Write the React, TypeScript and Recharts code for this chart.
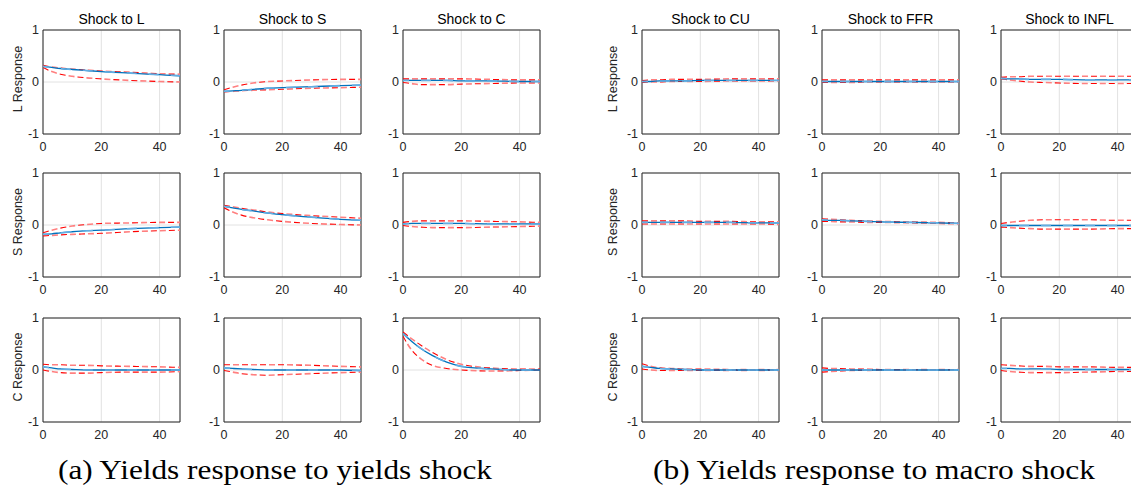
import React from 'react';
import { LineChart, Line, XAxis, YAxis, CartesianGrid, ReferenceArea } from 'recharts';

// ---------- data ----------
const HORIZONS = [0, 3, 6, 10, 15, 20, 30, 40, 47];
const X_TICKS = [0, 20, 40];
const Y_TICKS = [-1, 0, 1];
const YIELD_SHOCKS = ['L', 'S', 'C'];
const MACRO_SHOCKS = ['CU', 'FFR', 'INFL'];
const RESPONSES = ['L', 'S', 'C'];
const CAPTION_A = '(a) Yields response to yields shock';
const CAPTION_B = '(b) Yields response to macro shock';

// group (a): yields response to yields shock
const L_TO_L = { med: [0.30, 0.28, 0.26, 0.24, 0.22, 0.20, 0.17, 0.14, 0.12], lo: [0.28, 0.20, 0.15, 0.11, 0.08, 0.06, 0.03, 0.01, 0.00], hi: [0.32, 0.29, 0.27, 0.25, 0.23, 0.21, 0.19, 0.16, 0.15] };
const L_TO_S = { med: [-0.18, -0.17, -0.16, -0.14, -0.12, -0.11, -0.09, -0.07, -0.06], lo: [-0.19, -0.18, -0.17, -0.16, -0.15, -0.14, -0.12, -0.11, -0.10], hi: [-0.15, -0.10, -0.06, -0.02, 0.01, 0.02, 0.04, 0.05, 0.05] };
const L_TO_C = { med: [0.03, 0.03, 0.03, 0.03, 0.03, 0.02, 0.02, 0.01, 0.01], lo: [-0.01, -0.03, -0.05, -0.05, -0.05, -0.04, -0.03, -0.02, -0.02], hi: [0.06, 0.06, 0.06, 0.06, 0.06, 0.06, 0.05, 0.04, 0.04] };
const S_TO_L = { med: [-0.18, -0.17, -0.15, -0.13, -0.11, -0.10, -0.07, -0.05, -0.04], lo: [-0.21, -0.20, -0.19, -0.18, -0.17, -0.16, -0.13, -0.11, -0.10], hi: [-0.15, -0.10, -0.06, -0.02, 0.01, 0.03, 0.04, 0.05, 0.05] };
const S_TO_S = { med: [0.36, 0.33, 0.30, 0.27, 0.23, 0.20, 0.15, 0.11, 0.09], lo: [0.33, 0.25, 0.19, 0.14, 0.10, 0.07, 0.03, 0.01, 0.00], hi: [0.38, 0.35, 0.32, 0.29, 0.25, 0.22, 0.18, 0.15, 0.13] };
const S_TO_C = { med: [0.02, 0.03, 0.03, 0.03, 0.03, 0.03, 0.02, 0.02, 0.02], lo: [-0.01, -0.03, -0.04, -0.05, -0.05, -0.05, -0.04, -0.03, -0.02], hi: [0.05, 0.07, 0.08, 0.08, 0.08, 0.08, 0.07, 0.06, 0.05] };
const C_TO_L = { med: [0.06, 0.04, 0.02, 0.01, 0.00, 0.00, 0.00, 0.00, 0.00], lo: [0.00, -0.03, -0.05, -0.06, -0.06, -0.05, -0.04, -0.04, -0.03], hi: [0.11, 0.10, 0.10, 0.09, 0.09, 0.08, 0.07, 0.06, 0.05] };
const C_TO_S = { med: [0.04, 0.03, 0.02, 0.01, 0.00, 0.00, 0.00, 0.00, -0.01], lo: [-0.01, -0.04, -0.07, -0.09, -0.10, -0.09, -0.07, -0.05, -0.04], hi: [0.10, 0.10, 0.10, 0.10, 0.10, 0.10, 0.09, 0.07, 0.06] };
const C_TO_C = { med: [0.70, 0.55, 0.42, 0.28, 0.15, 0.07, 0.02, 0.00, 0.00], lo: [0.65, 0.38, 0.22, 0.09, 0.03, 0.00, -0.02, -0.01, 0.00], hi: [0.73, 0.60, 0.48, 0.34, 0.20, 0.11, 0.04, 0.02, 0.02] };

// group (b): yields response to macro shock
const L_TO_CU = { med: [0.01, 0.01, 0.02, 0.02, 0.02, 0.03, 0.03, 0.03, 0.03], lo: [-0.01, 0.00, 0.00, 0.01, 0.01, 0.01, 0.02, 0.02, 0.02], hi: [0.03, 0.04, 0.04, 0.05, 0.05, 0.05, 0.06, 0.06, 0.06] };
const L_TO_FFR = { med: [0.01, 0.01, 0.01, 0.01, 0.01, 0.01, 0.01, 0.01, 0.01], lo: [-0.01, -0.01, -0.01, -0.01, 0.00, 0.00, 0.00, 0.00, 0.00], hi: [0.04, 0.04, 0.04, 0.04, 0.04, 0.04, 0.04, 0.04, 0.04] };
const L_TO_INFL = { med: [0.07, 0.06, 0.06, 0.05, 0.05, 0.05, 0.04, 0.04, 0.04], lo: [0.06, 0.04, 0.02, 0.00, -0.01, -0.02, -0.03, -0.03, -0.03], hi: [0.09, 0.10, 0.10, 0.11, 0.11, 0.11, 0.11, 0.11, 0.11] };
const S_TO_CU = { med: [0.05, 0.05, 0.05, 0.05, 0.05, 0.05, 0.05, 0.04, 0.04], lo: [0.02, 0.02, 0.02, 0.02, 0.02, 0.02, 0.02, 0.02, 0.01], hi: [0.08, 0.08, 0.08, 0.08, 0.08, 0.07, 0.07, 0.06, 0.06] };
const S_TO_FFR = { med: [0.10, 0.09, 0.09, 0.08, 0.07, 0.06, 0.05, 0.04, 0.03], lo: [0.07, 0.07, 0.06, 0.06, 0.05, 0.05, 0.04, 0.03, 0.02], hi: [0.12, 0.11, 0.10, 0.09, 0.08, 0.07, 0.06, 0.05, 0.04] };
const S_TO_INFL = { med: [-0.01, -0.01, -0.01, -0.01, -0.01, -0.01, -0.01, -0.01, -0.01], lo: [-0.04, -0.05, -0.06, -0.07, -0.08, -0.08, -0.08, -0.07, -0.07], hi: [0.03, 0.05, 0.07, 0.09, 0.10, 0.10, 0.10, 0.09, 0.09] };
const C_TO_CU = { med: [0.07, 0.05, 0.03, 0.02, 0.01, 0.00, 0.00, 0.00, 0.00], lo: [0.02, 0.00, -0.01, -0.01, -0.01, -0.01, -0.01, -0.01, -0.01], hi: [0.12, 0.07, 0.04, 0.03, 0.02, 0.02, 0.01, 0.01, 0.01] };
const C_TO_FFR = { med: [0.00, 0.00, 0.00, 0.00, 0.00, 0.00, 0.00, 0.00, 0.00], lo: [-0.04, -0.03, -0.02, -0.01, -0.01, 0.00, 0.00, 0.00, 0.00], hi: [0.04, 0.03, 0.03, 0.02, 0.02, 0.01, 0.01, 0.01, 0.01] };
const C_TO_INFL = { med: [0.03, 0.03, 0.02, 0.02, 0.02, 0.01, 0.01, 0.01, 0.01], lo: [-0.01, -0.03, -0.04, -0.05, -0.05, -0.05, -0.04, -0.03, -0.03], hi: [0.10, 0.09, 0.08, 0.07, 0.07, 0.06, 0.06, 0.05, 0.05] };

const GROUP_A = [
  [L_TO_L, L_TO_S, L_TO_C],
  [S_TO_L, S_TO_S, S_TO_C],
  [C_TO_L, C_TO_S, C_TO_C],
];
const GROUP_B = [
  [L_TO_CU, L_TO_FFR, L_TO_INFL],
  [S_TO_CU, S_TO_FFR, S_TO_INFL],
  [C_TO_CU, C_TO_FFR, C_TO_INFL],
];

// ---------- layout ----------
const W = 1131;
const H = 486;
const COL_LEFT_A = [43, 224, 403];
const COL_LEFT_B = [642, 822, 1001];
const ROW_TOP = [30, 173, 318];
const PW = 137; // plot width
const PH = 104; // plot height
const YW = 45; // y axis band
const XH = 25; // x axis band
const MT = 12;
const MR = 5;
const SANS = 'Liberation Sans, Arial, Helvetica, sans-serif';
const TICK_STYLE = { fontSize: 12.5, fill: '#262626', fontFamily: SANS };

type Series = { med: number[]; lo: number[]; hi: number[] };

function Panel({ series, left, top }: { series: Series; left: number; top: number }) {
  const data = HORIZONS.map((h, i) => ({ h, med: series.med[i], lo: series.lo[i], hi: series.hi[i] }));
  const common = { dot: false, activeDot: false, isAnimationActive: false, type: 'monotone' as const };
  return (
    <div style={{ position: 'absolute', left: left - YW, top: top - MT }}>
      <LineChart width={YW + PW + MR} height={MT + PH + XH} data={data} margin={{ top: MT, right: MR, left: 0, bottom: 0 }}>
        <CartesianGrid stroke="#e2e2e2" strokeWidth={1} />
        <XAxis dataKey="h" type="number" domain={[0, 47]} ticks={X_TICKS} interval={0} height={XH}
          axisLine={false} tickLine={false} tick={TICK_STYLE} allowDataOverflow />
        <YAxis type="number" domain={[-1, 1]} ticks={Y_TICKS} interval={0} width={YW}
          axisLine={false} tickLine={false} tickSize={2} tickMargin={2} tick={TICK_STYLE} allowDataOverflow />
        <Line {...common} dataKey="hi" stroke="#ff0000" strokeWidth={1.1} strokeDasharray="6 12" />
        <Line {...common} dataKey="hi" stroke="#ff8080" strokeWidth={1.6} strokeDasharray="6 12" strokeDashoffset={9} />
        <Line {...common} dataKey="lo" stroke="#ff0000" strokeWidth={1.1} strokeDasharray="6 12" />
        <Line {...common} dataKey="lo" stroke="#ff8080" strokeWidth={1.6} strokeDasharray="6 12" strokeDashoffset={9} />
        <Line {...common} dataKey="med" stroke="#0072bd" strokeWidth={1.3} />
        <Line {...common} dataKey="med" stroke="#62aee3" strokeWidth={1.6} strokeDasharray="10 12" strokeDashoffset={4} />
        <ReferenceArea x1={0} x2={47} y1={-1} y2={1} fill="none" fillOpacity={0} stroke="#262626" strokeWidth={1} />
      </LineChart>
    </div>
  );
}

export default function App() {
  const panels: React.ReactNode[] = [];
  GROUP_A.forEach((row, r) => row.forEach((s, c) => panels.push(
    <Panel key={`a${r}${c}`} series={s} left={COL_LEFT_A[c]} top={ROW_TOP[r]} />)));
  GROUP_B.forEach((row, r) => row.forEach((s, c) => panels.push(
    <Panel key={`b${r}${c}`} series={s} left={COL_LEFT_B[c]} top={ROW_TOP[r]} />)));

  return (
    <div style={{ position: 'absolute', left: 0, top: 0, width: W, height: H, overflow: 'hidden', background: '#fff' }}>
      {panels}
      <svg width={W} height={H} style={{ position: 'absolute', left: 0, top: 0, pointerEvents: 'none' }}>
        {YIELD_SHOCKS.map((s, c) => (
          <text key={`ta${c}`} x={COL_LEFT_A[c] + PW / 2} y={24} textAnchor="middle" fontFamily={SANS} fontSize={14} fill="#000">{`Shock to ${s}`}</text>
        ))}
        {MACRO_SHOCKS.map((s, c) => (
          <text key={`tb${c}`} x={COL_LEFT_B[c] + PW / 2} y={24} textAnchor="middle" fontFamily={SANS} fontSize={14} fill="#000">{`Shock to ${s}`}</text>
        ))}
        {RESPONSES.map((r, i) => (
          <React.Fragment key={`yl${i}`}>
            <text transform={`translate(18, ${ROW_TOP[i] + PH / 2 - 3}) rotate(-90)`} textAnchor="middle" dominantBaseline="central" fontFamily={SANS} fontSize={12.5} fill="#262626">{`${r} Response`}</text>
            <text transform={`translate(613, ${ROW_TOP[i] + PH / 2 - 3}) rotate(-90)`} textAnchor="middle" dominantBaseline="central" fontFamily={SANS} fontSize={12.5} fill="#262626">{`${r} Response`}</text>
          </React.Fragment>
        ))}
        <text x={275} y={479} textAnchor="middle" fontFamily="Liberation Serif, serif" fontSize={28} fill="#000" textLength={434} lengthAdjust="spacingAndGlyphs">{CAPTION_A}</text>
        <text x={874} y={479} textAnchor="middle" fontFamily="Liberation Serif, serif" fontSize={28} fill="#000" textLength={442} lengthAdjust="spacingAndGlyphs">{CAPTION_B}</text>
      </svg>
    </div>
  );
}
